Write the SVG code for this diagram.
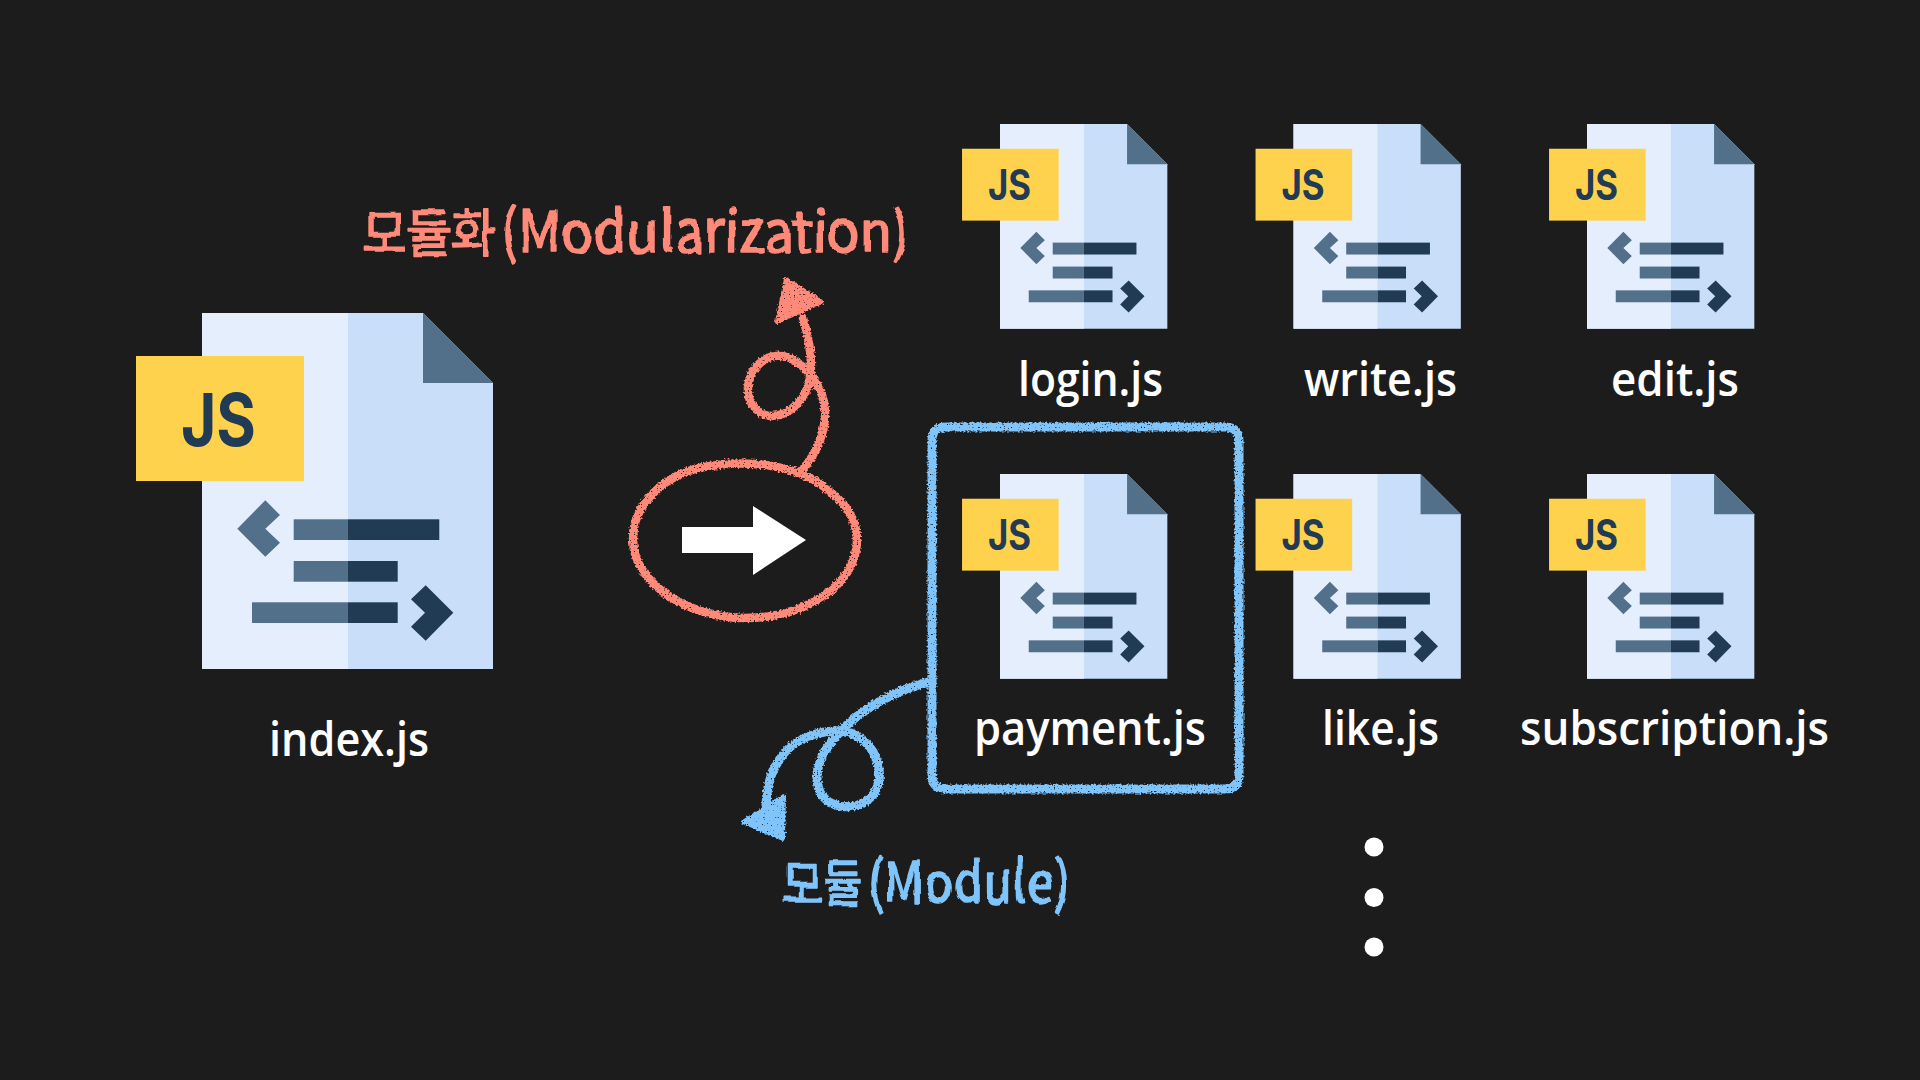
<svg xmlns="http://www.w3.org/2000/svg" width="1920" height="1080" viewBox="0 0 1920 1080">
<style>
.label{font-family:"Open Sans","Noto Sans CJK KR",sans-serif;font-size:47px;font-weight:600;fill:#fff}
.js{font-family:"Inter","Noto Sans",sans-serif;font-size:73px;font-weight:700;fill:#223b55}
.hand{font-family:"Noto Sans CJK KR","Noto Sans",sans-serif;font-weight:400;stroke-width:1.6;stroke-linejoin:round}
.ko{font-size:52px}
.la{font-size:57px}
.red{fill:none;stroke:#ff8a7a;stroke-width:8.5;stroke-linecap:round;stroke-linejoin:round}
.blue{fill:none;stroke:#7fc5fb;stroke-width:9;stroke-linecap:round;stroke-linejoin:round}
</style>
<defs>
<filter id="chalk" x="-10%" y="-10%" width="120%" height="120%" color-interpolation-filters="sRGB">
<feTurbulence type="fractalNoise" baseFrequency="0.5" numOctaves="2" seed="4" result="n"/>
<feDisplacementMap in="SourceGraphic" in2="n" scale="5" xChannelSelector="R" yChannelSelector="G" result="d"/>
<feTurbulence type="fractalNoise" baseFrequency="0.7" numOctaves="1" seed="11"/>
<feColorMatrix type="matrix" values="0 0 0 0 0 0 0 0 0 0 0 0 0 0 0 12 0 0 0 -3" result="m"/>
<feComposite in="d" in2="m" operator="in"/>
</filter>
<filter id="wobble" x="-5%" y="-20%" width="110%" height="140%" color-interpolation-filters="sRGB">
<feTurbulence type="fractalNoise" baseFrequency="0.035" numOctaves="2" seed="9" result="n"/>
<feDisplacementMap in="SourceGraphic" in2="n" scale="7" xChannelSelector="R" yChannelSelector="G"/>
</filter>
<g id="icon">
<polygon points="0,0 221,0 291,70 291,356 0,356" fill="#c9dff9"/>
<rect width="146" height="356" fill="#e4eefd"/>
<polygon points="221,0 291,70 221,70" fill="#527089"/>
<rect x="-66" y="43" width="168" height="125" fill="#ffd24d"/>
<polygon points="35.3,215.7 63.3,187.3 78,202 63.3,215.7 78,229.7 63.3,243.7" fill="#527089"/>
<rect x="91.7" y="206.3" width="54.3" height="20.7" fill="#527089"/>
<rect x="146" y="206.3" width="91.3" height="20.7" fill="#223b55"/>
<rect x="91.7" y="248" width="54.3" height="20.7" fill="#527089"/>
<rect x="146" y="248" width="49.7" height="20.7" fill="#223b55"/>
<rect x="50" y="289.3" width="96" height="20.7" fill="#527089"/>
<rect x="146" y="289.3" width="49.7" height="20.7" fill="#223b55"/>
<polygon points="251.3,299.7 223.7,272.3 209,286.3 223,299.7 209,313.7 223.7,327.7" fill="#223b55"/>
</g>
</defs>
<rect width="1920" height="1080" fill="#1c1c1c"/>

<g id="index-js">
<g transform="translate(202 313)"><use href="#icon"/><text class="js" x="-21" y="133" textLength="75" lengthAdjust="spacingAndGlyphs">JS</text></g>
<text class="label" x="269" y="756" textLength="160" lengthAdjust="spacingAndGlyphs">index.js</text>
</g>
<g id="login-js">
<g transform="translate(1000 124) scale(.575)"><use href="#icon"/><text class="js" x="-21" y="133" textLength="75" lengthAdjust="spacingAndGlyphs">JS</text></g>
<text class="label" x="1018" y="396" textLength="145" lengthAdjust="spacingAndGlyphs">login.js</text>
</g>
<g id="write-js">
<g transform="translate(1293.5 124) scale(.575)"><use href="#icon"/><text class="js" x="-21" y="133" textLength="75" lengthAdjust="spacingAndGlyphs">JS</text></g>
<text class="label" x="1304" y="396" textLength="153" lengthAdjust="spacingAndGlyphs">write.js</text>
</g>
<g id="edit-js">
<g transform="translate(1587 124) scale(.575)"><use href="#icon"/><text class="js" x="-21" y="133" textLength="75" lengthAdjust="spacingAndGlyphs">JS</text></g>
<text class="label" x="1611" y="396" textLength="128" lengthAdjust="spacingAndGlyphs">edit.js</text>
</g>
<g id="payment-js">
<g transform="translate(1000 474) scale(.575)"><use href="#icon"/><text class="js" x="-21" y="133" textLength="75" lengthAdjust="spacingAndGlyphs">JS</text></g>
<text class="label" x="974" y="745" textLength="232" lengthAdjust="spacingAndGlyphs">payment.js</text>
</g>
<g id="like-js">
<g transform="translate(1293.5 474) scale(.575)"><use href="#icon"/><text class="js" x="-21" y="133" textLength="75" lengthAdjust="spacingAndGlyphs">JS</text></g>
<text class="label" x="1322" y="745" textLength="117" lengthAdjust="spacingAndGlyphs">like.js</text>
</g>
<g id="subscription-js">
<g transform="translate(1587 474) scale(.575)"><use href="#icon"/><text class="js" x="-21" y="133" textLength="75" lengthAdjust="spacingAndGlyphs">JS</text></g>
<text class="label" x="1520" y="745" textLength="309" lengthAdjust="spacingAndGlyphs">subscription.js</text>
</g>

<g id="more-dots" fill="#fff">
<circle cx="1374" cy="847" r="9.5"/><circle cx="1374" cy="897.5" r="9.5"/><circle cx="1374" cy="947" r="9.5"/>
</g>

<g id="arrow"><polygon points="682,527 753,527 753,506 806,540 753,575 753,553 682,553" fill="#fff"/></g>

<g id="connectors">
<g filter="url(#chalk)">
<path class="red" d="M823,486 C795,465 750,460 710,466 C665,472 632,505 633,540 C634,585 690,618 745,618 C805,618 857,585 857,540 C857,518 843,500 826,489"/>
<path class="red" d="M801,472 C815,455 826,435 825,410 C824,390 810,368 790,358 C770,350 750,365 748,387 C747,405 760,416 772,416 C790,416 807,398 810,378 C813,360 808,335 803,318"/>
<polygon points="786,279 822,302 777,322" fill="#ff8a7a" stroke="#ff8a7a" stroke-width="4" stroke-linejoin="round"/>
</g>
<g filter="url(#chalk)">
<path class="blue" d="M956,427 L1225,427 Q1239,427 1239,441 L1239,775 Q1239,789 1225,789 L946,789 Q932,789 932,775 L932,441 Q932,427 946,427 L950,427"/>
<path class="blue" d="M929,682 C895,690 860,710 840,732 C820,752 812,775 820,792 C830,812 865,812 876,790 C885,770 875,745 855,735 C835,725 800,735 785,752 C772,768 767,782 766,806"/>
<polygon points="743,822 784,796 783,839" fill="#7fc5fb" stroke="#7fc5fb" stroke-width="4" stroke-linejoin="round"/>
</g>
</g>

<g id="label-modularization" filter="url(#wobble)">
<text class="hand" x="362" y="252" fill="#ff8a7a" stroke="#ff8a7a" textLength="548" lengthAdjust="spacingAndGlyphs"><tspan class="ko">모듈화</tspan><tspan class="la" dx="4">(Modularization)</tspan></text>
</g>
<g id="label-module" filter="url(#wobble)">
<text class="hand" x="782" y="903" fill="#7fc5fb" stroke="#7fc5fb" textLength="288" lengthAdjust="spacingAndGlyphs"><tspan class="ko">모듈</tspan><tspan class="la" dx="6">(Module)</tspan></text>
</g>
</svg>
